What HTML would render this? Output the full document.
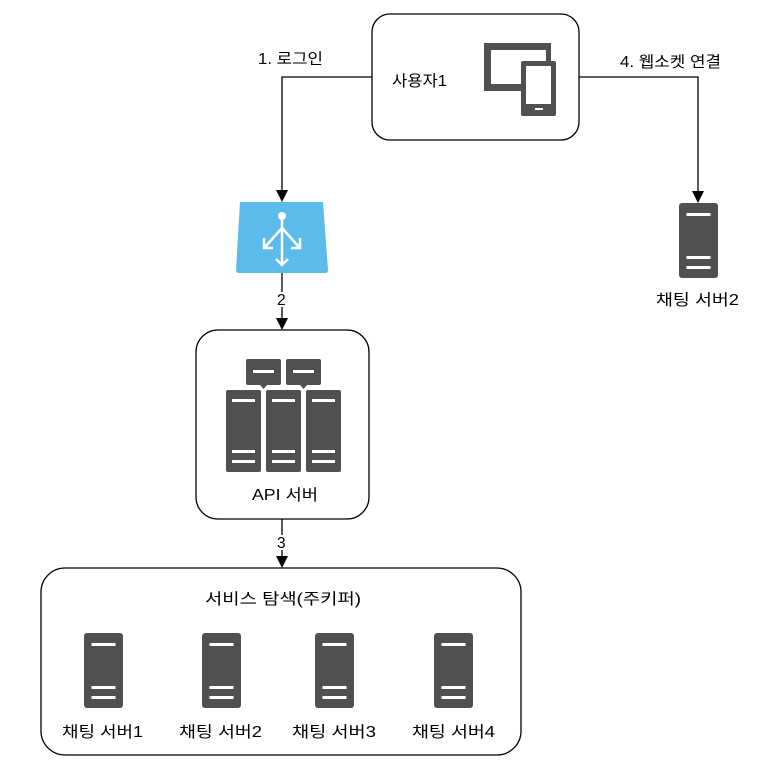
<!DOCTYPE html>
<html><head><meta charset="utf-8"><style>
body{margin:0;background:#fff;}
svg text{font-family:"Liberation Sans","Noto Sans CJK KR",sans-serif;font-size:15.5px;fill:#000;}
</style></head><body>
<svg width="770" height="764" viewBox="0 0 770 764" xmlns="http://www.w3.org/2000/svg">
<defs>
<g id="srv">
<rect x="0" y="0" width="39" height="75" rx="3" fill="#505050"/>
<rect x="7.5" y="10" width="24" height="3" fill="#fff"/>
<rect x="7.5" y="53" width="24" height="3" fill="#fff"/>
<rect x="7.5" y="63" width="24" height="3" fill="#fff"/>
</g>
<g id="srvb">
<rect x="0" y="0" width="35" height="82" rx="2" fill="#505050"/>
<rect x="6" y="9" width="23" height="3" fill="#fff"/>
<rect x="6" y="60" width="23" height="3" fill="#fff"/>
<rect x="6" y="70" width="23" height="3" fill="#fff"/>
</g>
<g id="srvs">
<rect x="0" y="0" width="35" height="26" rx="2" fill="#505050"/>
<rect x="7" y="11" width="21" height="3" fill="#fff"/>
<polygon points="14,26 21,26 17.5,30" fill="#505050"/>
</g>
</defs>
<rect x="372" y="14" width="207" height="126" rx="18" fill="#fff" stroke="#000" stroke-width="1.3"/>
<text x="392" y="86" textLength="55" lengthAdjust="spacingAndGlyphs">사용자1</text>
<path d="M484,43 H551 V61 H546 V50 H491 V84 H521 V91 H484 Z" fill="#505050"/>
<rect x="521" y="61" width="35" height="55" rx="2" fill="#505050"/>
<rect x="526" y="66" width="25" height="38" fill="#fff"/>
<rect x="535" y="108" width="8" height="2" fill="#fff"/>
<path d="M372,77 H282 V194" fill="none" stroke="#000" stroke-width="1.3"/>
<polygon points="276,190 288,190 282,202" fill="#000"/>
<text x="258" y="64" textLength="65" lengthAdjust="spacingAndGlyphs">1. 로그인</text>
<path d="M579,77 H698 V195" fill="none" stroke="#000" stroke-width="1.3"/>
<polygon points="692,191 704,191 698,203" fill="#000"/>
<text x="620" y="67" textLength="101" lengthAdjust="spacingAndGlyphs">4. 웹소켓 연결</text>
<path d="M240,202 H323 L328,270 Q328,273 325,273 H239 Q236,273 236,270 Z" fill="#5bbcec"/>
<g stroke="#fff" stroke-width="2.5" fill="none">
<line x1="282" y1="216" x2="282" y2="265"/>
<line x1="282" y1="228" x2="265" y2="247"/>
<line x1="282" y1="228" x2="299" y2="247"/>
<polyline points="264,238 264,248 273,248"/>
<polyline points="300,238 300,248 291,248"/>
<polyline points="276,259 282,265 288,259"/>
</g>
<circle cx="282" cy="216" r="4" fill="#fff"/>
<line x1="282" y1="273" x2="282" y2="322" stroke="#000" stroke-width="1.3"/>
<rect x="276" y="292" width="12" height="15" fill="#fff"/>
<text x="277" y="305">2</text>
<polygon points="276,318 288,318 282,330" fill="#000"/>
<rect x="196" y="330" width="173" height="189" rx="22" fill="#fff" stroke="#000" stroke-width="1.3"/>
<use href="#srvs" x="246" y="359"/>
<use href="#srvs" x="286" y="359"/>
<use href="#srvb" x="226" y="390"/>
<use href="#srvb" x="266" y="390"/>
<use href="#srvb" x="306" y="390"/>
<text x="252" y="500" textLength="66" lengthAdjust="spacingAndGlyphs">API 서버</text>
<line x1="282" y1="519" x2="282" y2="560" stroke="#000" stroke-width="1.3"/>
<rect x="276" y="535" width="12" height="15" fill="#fff"/>
<text x="277" y="548">3</text>
<polygon points="276,556 288,556 282,568" fill="#000"/>
<rect x="41" y="568" width="480" height="187" rx="24" fill="#fff" stroke="#000" stroke-width="1.3"/>
<text x="205" y="604" textLength="156" lengthAdjust="spacingAndGlyphs">서비스 탐색(주키퍼)</text>
<use href="#srv" x="84" y="633"/>
<use href="#srv" x="202" y="633"/>
<use href="#srv" x="315" y="633"/>
<use href="#srv" x="434" y="633"/>
<text x="62" y="737" textLength="81" lengthAdjust="spacingAndGlyphs">채팅 서버1</text>
<text x="179" y="737" textLength="83" lengthAdjust="spacingAndGlyphs">채팅 서버2</text>
<text x="292" y="737" textLength="84" lengthAdjust="spacingAndGlyphs">채팅 서버3</text>
<text x="412" y="737" textLength="83" lengthAdjust="spacingAndGlyphs">채팅 서버4</text>
<use href="#srv" x="679" y="203"/>
<text x="656" y="305" textLength="83" lengthAdjust="spacingAndGlyphs">채팅 서버2</text>
</svg>
</body></html>
